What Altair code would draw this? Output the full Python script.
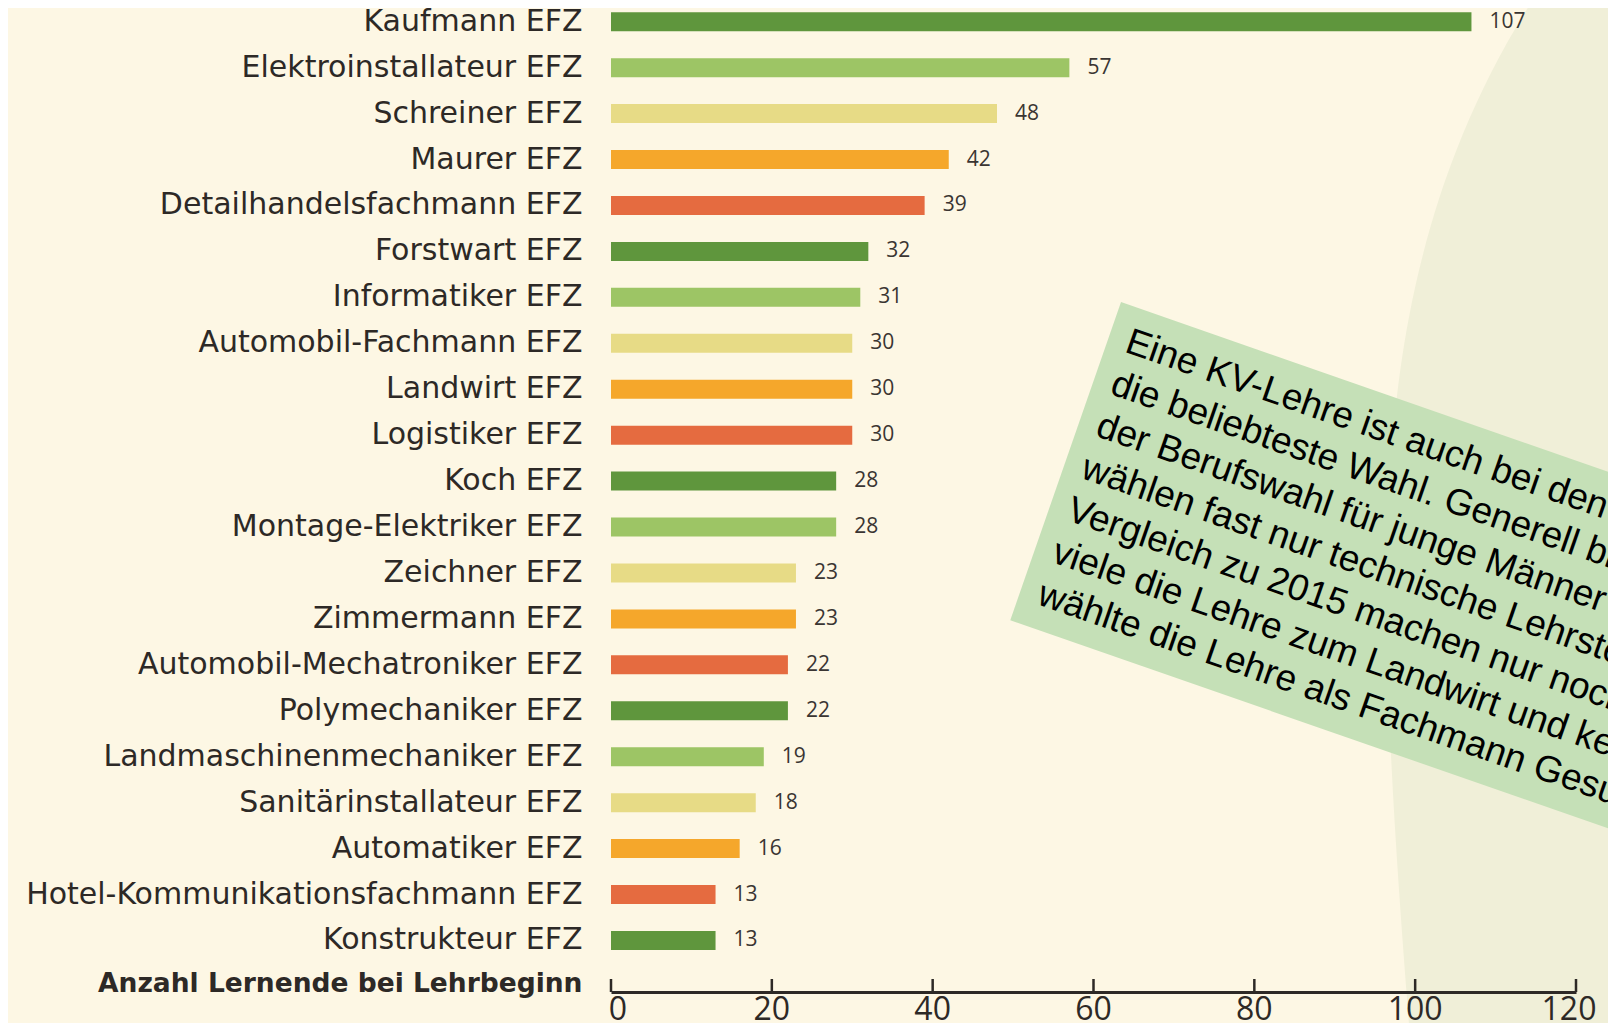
import altair as alt
import pandas as pd

# ---------------- data ----------------
berufe = [
    "Kaufmann EFZ", "Elektroinstallateur EFZ", "Schreiner EFZ", "Maurer EFZ",
    "Detailhandelsfachmann EFZ", "Forstwart EFZ", "Informatiker EFZ",
    "Automobil-Fachmann EFZ", "Landwirt EFZ", "Logistiker EFZ", "Koch EFZ",
    "Montage-Elektriker EFZ", "Zeichner EFZ", "Zimmermann EFZ",
    "Automobil-Mechatroniker EFZ", "Polymechaniker EFZ",
    "Landmaschinenmechaniker EFZ", "Sanitärinstallateur EFZ", "Automatiker EFZ",
    "Hotel-Kommunikationsfachmann EFZ", "Konstrukteur EFZ",
]
anzahl = [107, 57, 48, 42, 39, 32, 31, 30, 30, 30, 28, 28, 23, 23, 22, 22, 19, 18, 16, 13, 13]
x_ticks = [0, 20, 40, 60, 80, 100, 120]
x_title = "Anzahl Lernende bei Lehrbeginn"
notiz_zeilen = [
    "Eine KV-Lehre ist auch bei den Jugendlichen",
    "die beliebteste Wahl. Generell bietet",
    "der Berufswahl für junge Männer",
    "wählen fast nur technische Lehrstellen",
    "Vergleich zu 2015 machen nur noch",
    "viele die Lehre zum Landwirt und keiner",
    "wählte die Lehre als Fachmann Gesundheit",
]

# ---------------- styles ----------------
palette = ["#5f963d", "#9dc565", "#e7db86", "#f5a72b", "#e56b40"]
bar_colors = [palette[i % len(palette)] for i in range(len(berufe))]
BG = "#fdf7e4"
BLOB = "#f0efd8"
NOTE_BG = "#c5e0b7"
TXT = "#2d2926"
W, H = 965, 984
ANG = 19.2
BLOB_PATH = ("M-0.385,0.6C-0.405,0.35,-0.42,0.15,-0.41,-0.02"
             "C-0.402,-0.17,-0.37,-0.36,-0.24,-0.54"
             "L-0.1,-0.62L0.2,-0.62L0.2,0.6Z")

df = pd.DataFrame({"Beruf": berufe, "Anzahl": anzahl})
df_ticks = pd.DataFrame({"t": x_ticks})
one = pd.DataFrame({"k": [0]})

xscale = alt.Scale(domain=[0, 120], nice=False, zero=True)
yscale = alt.Scale(domain=berufe, paddingInner=0.586, paddingOuter=0.503, align=0.091)

# background blob on the right
blob = alt.Chart(one).mark_point(
    shape=BLOB_PATH, filled=True, size=4000000, color=BLOB, opacity=1, strokeWidth=0
).encode(x=alt.value(1189), y=alt.value(492))

bars = alt.Chart(df).mark_bar(cornerRadius=0).encode(
    x=alt.X(
        "Anzahl:Q", scale=xscale,
        axis=alt.Axis(
            values=x_ticks, ticks=False, grid=False, domain=True, labels=False,
            domainColor=TXT, domainWidth=3,
            title=x_title, titleFont="DejaVu Sans", titleFontWeight="bold",
            titleFontSize=26.5, titleColor=TXT, titleAlign="right",
            titleAnchor="start", titleX=-29, titleY=-1, titleBaseline="alphabetic",
            zindex=1,
        ),
    ),
    y=alt.Y(
        "Beruf:N", sort=berufe, scale=yscale,
        axis=alt.Axis(
            title=None, domain=False, ticks=False, labelFontSize=30,
            labelFont="DejaVu Sans", labelColor=TXT, labelPadding=29,
            labelLimit=1000, zindex=1,
        ),
    ),
    color=alt.Color("Beruf:N", scale=alt.Scale(domain=berufe, range=bar_colors), legend=None),
)

values = alt.Chart(df).mark_text(
    align="left", baseline="middle", dx=18, font="Open Sans", fontSize=21, color="#3a3532"
).encode(
    x=alt.X("Anzahl:Q", scale=xscale),
    y=alt.Y("Beruf:N", sort=berufe, scale=yscale),
    text="Anzahl:Q",
)

tick_rules = alt.Chart(df_ticks).mark_rule(color=TXT, strokeWidth=2.5).encode(
    x=alt.X("t:Q", scale=xscale),
    y=alt.value(H - 13),
    y2=alt.value(H),
)

# x tick labels (first and last nudged inward like in the original)
def tick_labels(filter_expr, dx):
    return alt.Chart(df_ticks).transform_filter(filter_expr).mark_text(
        align="center", baseline="top", dx=dx, font="Open Sans", fontSize=32, color=TXT
    ).encode(
        x=alt.X("t:Q", scale=xscale),
        y=alt.value(H + 3),
        text=alt.Text("t:Q"),
    )

lbl_mid = tick_labels("datum.t > 0 && datum.t < 120", 0)
lbl_first = tick_labels("datum.t <= 0", 7)
lbl_last = tick_labels("datum.t >= 120", -7)

note_box = alt.Chart(one).mark_point(
    shape="M-1,-0.421L1,-0.421L1,0.421L-1,0.421Z", filled=True, size=640000,
    angle=ANG, color=NOTE_BG, opacity=1, strokeWidth=0,
).encode(x=alt.value(832.4), y=alt.value(584.7))

note_text = alt.Chart(one).mark_text(
    text=notiz_zeilen, align="left", baseline="alphabetic", angle=ANG,
    font="Liberation Sans", fontSize=37, lineHeight=44.5, color="#000000",
).encode(x=alt.value(512.5), y=alt.value(343.5))

chart = alt.layer(
    blob, bars, values, tick_rules, lbl_mid, lbl_first, lbl_last, note_box, note_text
).properties(
    width=W, height=H,
    padding={"left": 603, "top": 0, "right": 32, "bottom": 31},
    autosize=alt.AutoSizeParams(type="none"),
    background=BG,
).configure_view(stroke=None)

chart.save("out.html", embed_options={"renderer": "svg", "actions": False})
